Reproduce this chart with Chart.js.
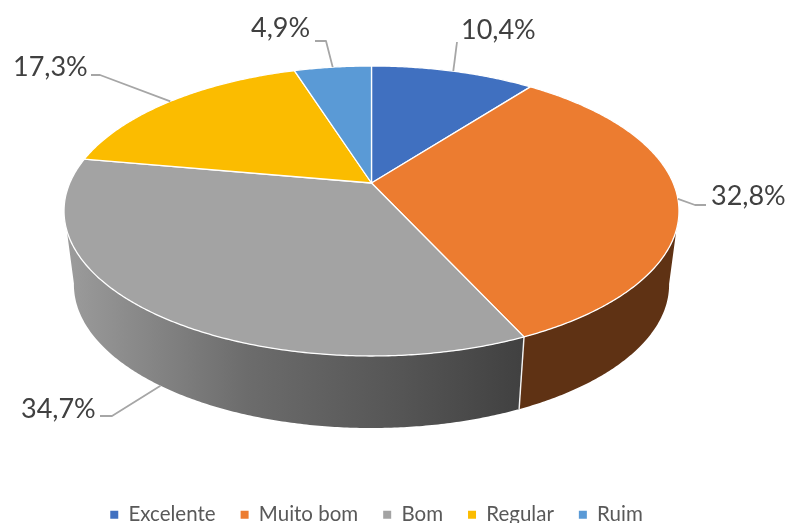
<!DOCTYPE html>
<html>
<head>
<meta charset="utf-8">
<style>
html,body{margin:0;padding:0;background:#fff;}
#wrap{width:787px;height:523px;overflow:hidden;}
</style>
<script src="https://cdn.jsdelivr.net/npm/chart.js@4/dist/chart.umd.min.js"></script>
</head>
<body>
<div id="wrap"><canvas id="c" width="787" height="523"></canvas></div>
<script>
const categories = ["Excelente", "Muito bom", "Bom", "Regular", "Ruim"];
const shares = [10.4, 32.8, 34.7, 17.3, 4.9];
const faceColors = ["#4070C0", "#EC7C30", "#A3A3A3", "#FBBC00", "#5A9AD6"];
const wallColors = ["#2A4A80", "#5F3214", null, "#A67D00", "#3C678F"];

// perspective projection of the pie disc
const persp = -0.193;
const topDisc = {cx: 371.5, cy: 183, a: 301.7, b: 139.6};
const bottomDisc = {cx: 371.5, cy: 257, a: 292, b: 138};
const fontFamily = "Lato, 'Liberation Sans', sans-serif";

// label furniture, per slice: leader elbow points and text anchor
const callouts = [
  {disc: "top", path: [[457, 42]], text: [461, 30]},
  {disc: "top", path: [[695, 205], [706, 205]], text: [711, 196]},
  {disc: "bottom", path: [[112, 416], [100, 416]], text: [21, 409]},
  {disc: "top", path: [[100, 75], [91, 75]], text: [13, 67]},
  {disc: "top", path: [[326, 41], [315, 41]], text: [251, 28]}
];

function project(disc, theta) {
  const u = Math.sin(theta), v = -Math.cos(theta), w = 1 + persp * v;
  return [disc.cx + disc.a * u / w, disc.cy + disc.b * v / w];
}

const pie3d = {
  id: "pie3d",
  beforeDatasetDraw(chart) {
    const ctx = chart.ctx;
    const arcs = chart.getDatasetMeta(0).data;
    const step = Math.PI / 360;
    const spans = arcs.map(a => [a.startAngle + Math.PI / 2, a.endAngle + Math.PI / 2]);
    ctx.save();
    ctx.lineJoin = "round";

    // side walls: only the part of each slice that faces the viewer
    const wallGrad = ctx.createLinearGradient(65, 0, 520, 0);
    wallGrad.addColorStop(0, "#9C9C9C");
    wallGrad.addColorStop(0.4, "#6C6C6C");
    wallGrad.addColorStop(0.74, "#555555");
    wallGrad.addColorStop(1, "#414141");
    spans.forEach(([s, e], i) => {
      ctx.beginPath();
      let any = false;
      for (let t = s; t < e; t += step) {
        const t2 = Math.min(t + step, e);
        if (-Math.cos(t) < -persp && -Math.cos(t2) < -persp) continue;
        any = true;
        const a = project(topDisc, t), b = project(topDisc, t2);
        const c = project(bottomDisc, t2), d = project(bottomDisc, t);
        ctx.moveTo(a[0], a[1]); ctx.lineTo(b[0], b[1]);
        ctx.lineTo(c[0], c[1]); ctx.lineTo(d[0], d[1]); ctx.closePath();
      }
      if (any) {
        ctx.fillStyle = wallColors[i] || wallGrad;
        ctx.fill("nonzero");
      }
    });

    // white seam on visible wall boundaries
    ctx.strokeStyle = "#F4F4F4";
    ctx.lineWidth = 1.4;
    spans.forEach(([s]) => {
      if (-Math.cos(s) > -persp) {
        const a = project(topDisc, s), b = project(bottomDisc, s);
        ctx.beginPath(); ctx.moveTo(a[0], a[1]); ctx.lineTo(b[0], b[1]); ctx.stroke();
      }
    });

    // top faces
    spans.forEach(([s, e], i) => {
      ctx.beginPath();
      ctx.moveTo(topDisc.cx, topDisc.cy);
      for (let t = s; t < e; t += step) {
        const p = project(topDisc, t);
        ctx.lineTo(p[0], p[1]);
      }
      const p = project(topDisc, e);
      ctx.lineTo(p[0], p[1]);
      ctx.closePath();
      ctx.fillStyle = faceColors[i];
      ctx.fill();
      ctx.strokeStyle = "#FFFFFF";
      ctx.lineWidth = 1.3;
      ctx.stroke();
    });

    // leaders and labels
    spans.forEach(([s, e], i) => {
      const c = callouts[i];
      const start = project(c.disc === "top" ? topDisc : bottomDisc, (s + e) / 2);
      ctx.beginPath();
      ctx.moveTo(start[0], start[1]);
      c.path.forEach(q => ctx.lineTo(q[0], q[1]));
      ctx.strokeStyle = "#A6A6A6";
      ctx.lineWidth = 1.8;
      ctx.stroke();
      ctx.fillStyle = "#404040";
      ctx.font = "27px " + fontFamily;
      ctx.textAlign = "left";
      ctx.textBaseline = "middle";
      ctx.fillText(shares[i].toFixed(1).replace(".", ",") + "%", c.text[0], c.text[1]);
    });
    ctx.restore();
    return false;
  }
};

new Chart(document.getElementById("c"), {
  type: "pie",
  data: {
    labels: categories,
    datasets: [{data: shares, backgroundColor: faceColors, borderWidth: 0}]
  },
  options: {
    responsive: false,
    animation: false,
    layout: {padding: {bottom: -12, right: 34}},
    plugins: {
      tooltip: {enabled: false},
      title: {display: false},
      legend: {
        display: true,
        position: "bottom",
        labels: {
          boxWidth: 8,
          boxHeight: 8,
          padding: 25,
          color: "#595959",
          font: {family: fontFamily, size: 20.5}
        }
      }
    }
  },
  plugins: [pie3d]
});
</script>
</body>
</html>
